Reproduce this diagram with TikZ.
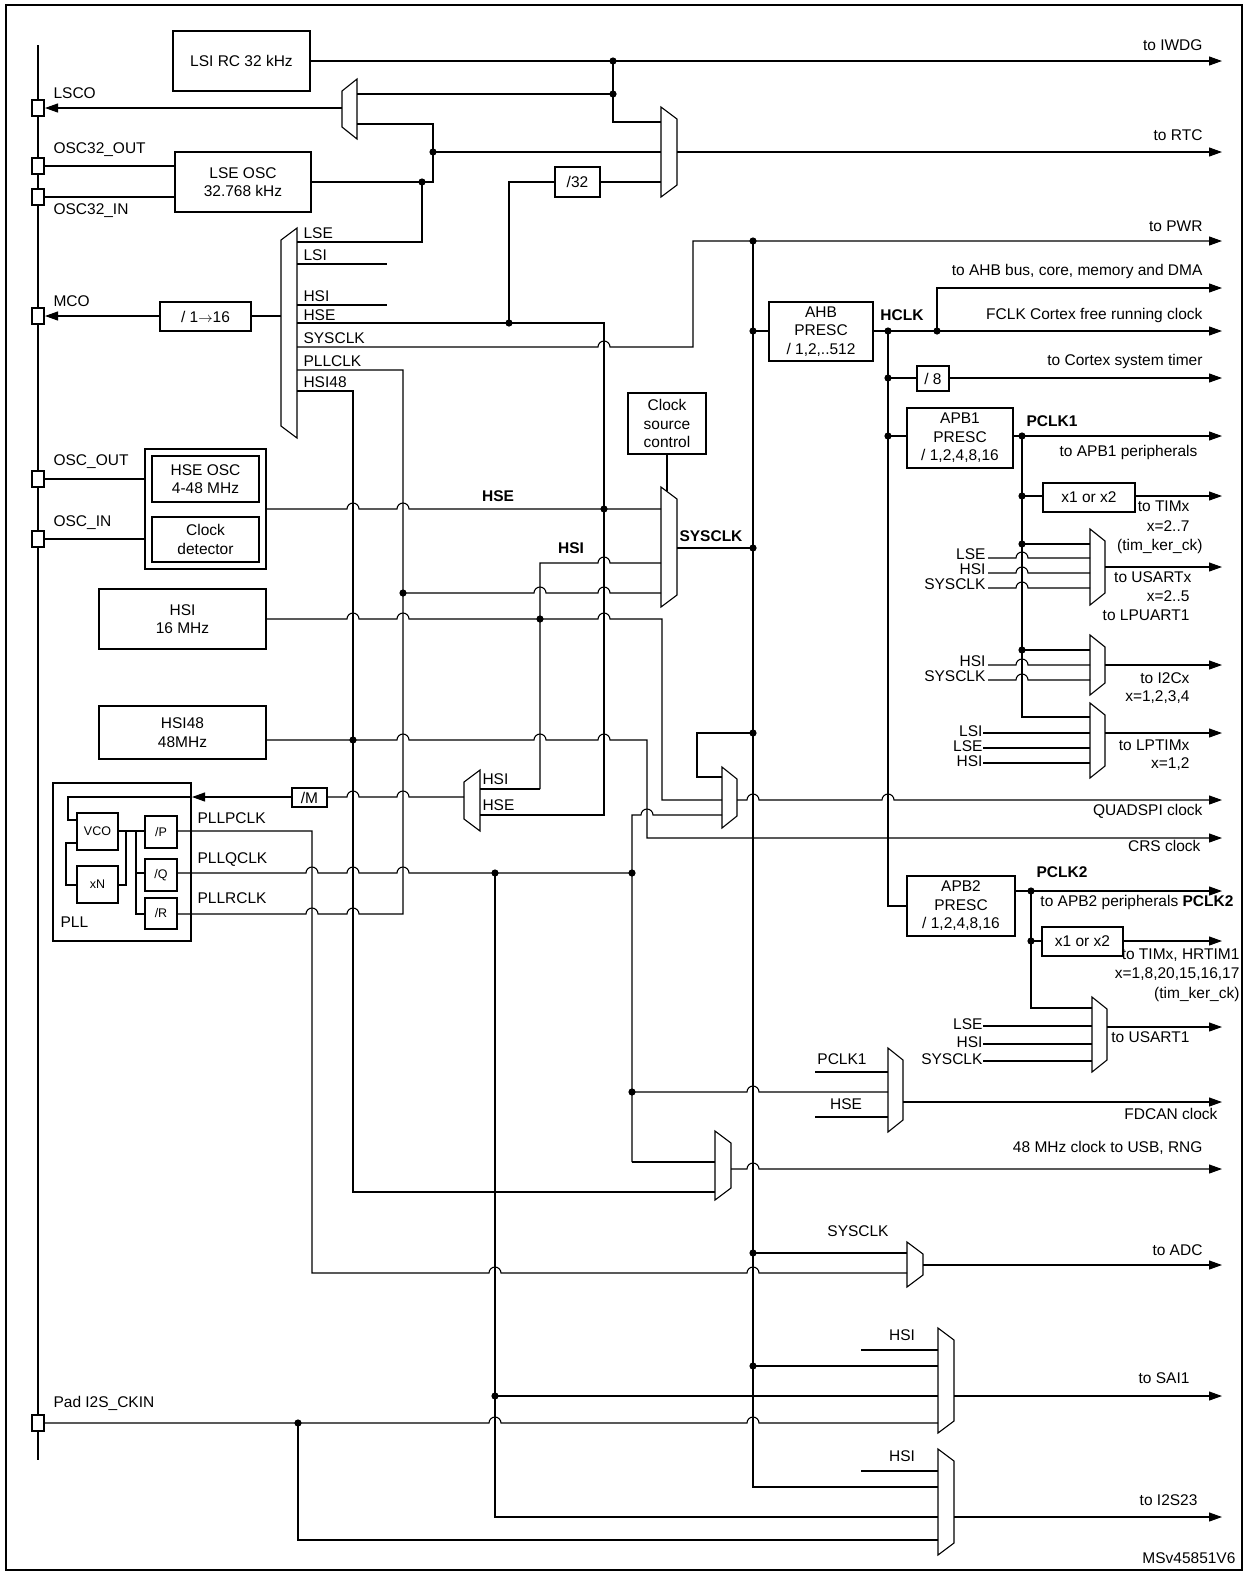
\documentclass[tikz,border=0pt]{standalone}
\usepackage{fontspec}
\setmainfont{Liberation Sans}
\usetikzlibrary{arrows.meta}
\newcommand\hp[2]{-- (#1-6,#2) arc[start angle=180,end angle=0,radius=6pt]}
\newcommand\muxR[4]{\draw (#1,#3) -- (#2,#3+12) -- (#2,#4-12) -- (#1,#4) -- cycle;}
\newcommand\muxL[4]{\draw (#2,#3) -- (#1,#3+12) -- (#1,#4-12) -- (#2,#4) -- cycle;}
\newcommand\dt[2]{\fill (#1,#2) circle[radius=3.6pt];}
\newcommand\bx[6]{\draw (#2,#3) rectangle (#4,#5); \node[align=center] (#1) at ({(#2+#4)/2},{(#3+#5)/2}) {#6};}
\newcommand\pin[1]{\draw[line width=1.8pt,fill=white] (32,#1-8) rectangle (44,#1+8);}
\newcommand\pl{\fontsize{12.5}{14}\selectfont}
\begin{document}
\begin{tikzpicture}[x=1pt,y=-1pt,line width=1.1pt,
  every node/.style={font=\fontsize{15.5}{18.5}\selectfont, inner sep=0pt},
  ar/.style={-{Triangle[length=13pt,width=9pt]}},
  lab/.style={anchor=east},
  labw/.style={anchor=west},
  bl/.style={font=\fontsize{15.5}{18.5}\selectfont\bfseries}]
\useasboundingbox (0,0) rectangle (1248,1575);
\draw[line width=1.5pt] (6,5) rectangle (1242,1570);
% left bus
\draw[line width=2.6pt] (38,45) -- (38,1460);
% top
\bx{lsi}{173}{31}{310}{91}{LSI RC 32 kHz}
\draw[ar] (310,61) -- (1222,61);
\node[lab] at (1203,45) {to IWDG};
\draw (613,61) -- (613,122) -- (661,122);
\dt{613}{61}\dt{613}{94}
\draw (613,94) -- (357,94);
\muxL{342}{357}{79}{139}
\draw[ar] (342,108) -- (45,108);
\draw (357,124) -- (433,124) -- (433,182) -- (311,182);
\dt{433}{152}\dt{422}{182}
\draw (433,152) -- (661,152);
\bx{lse}{175}{152}{311}{212}{LSE OSC\\32.768 kHz}
\draw (44,166) -- (175,166); \draw (44,197) -- (175,197);
\muxR{661}{677}{107}{197}
\draw[ar] (677,152) -- (1222,152);
\node[lab] at (1203,135) {to RTC};
\bx{d32}{555}{167}{600}{197}{/32}
\draw (600,182) -- (661,182);
\draw (555,182) -- (509,182) -- (509,323);
\dt{509}{323}
% MCO mux
\muxL{281}{297}{228}{438}
\draw (422,182) -- (422,242) -- (297,242);
\draw (297,264) -- (387,264);
\draw (297,305) -- (387,305);
\draw (297,323) -- (604,323) -- (604,815) -- (480,815);
\draw[ar] (297,347) \hp{604}{347} -- (693,347) -- (693,241) -- (1222,241);
\draw (177,914) \hp{312}{914} \hp{353}{914} -- (403,914) -- (403,370) -- (297,370);
\draw (297,391) -- (353,391) -- (353,1192) -- (715,1192);
\foreach \t/\y in {LSE/233,LSI/255,HSI/296,HSE/315,SYSCLK/338,PLLCLK/361,HSI48/382}
  \node[labw] at (303,\y) {\t};
\bx{mdiv}{160}{302}{251}{331}{/ 1\(\rightarrow\)16}
\draw (281,316) -- (251,316);
\draw[ar] (160,316) -- (45,316);
\node[lab] at (1203,226) {to PWR};
% pins
\foreach \y/\t in {108/LSCO,316/MCO} {\pin{\y}\node[labw] at (53,\y-15) {\t};}
\pin{166}\node[labw] at (53,150) {OSC32\_OUT};
\pin{197}\node[labw] at (53,211) {OSC32\_IN};
\pin{479}\node[labw] at (53,462) {OSC\_OUT};
\pin{539}\node[labw] at (53,523) {OSC\_IN};
\pin{1423}\node[labw] at (53,1403) {Pad I2S\_CKIN};
% HSE osc
\draw (145,449) rectangle (266,569);
\bx{hse}{152}{456}{259}{502}{HSE OSC\\4-48 MHz}
\bx{cd}{152}{517}{259}{562}{Clock\\detector}
\draw (44,479) -- (145,479); \draw (44,539) -- (145,539);
\draw (266,509) \hp{353}{509} \hp{403}{509} -- (661,509);
\dt{604}{509}
\node[bl] at (498,496) {HSE};
\draw (540,789) -- (540,563) \hp{604}{563} -- (661,563);
\node[bl] at (571,548) {HSI};
\draw (540,789) -- (480,789);
\dt{403}{593}
\draw (403,593) \hp{540}{593} \hp{604}{593} -- (661,593);
\bx{hsi}{99}{589}{266}{649}{HSI\\16 MHz}
\draw (266,619) \hp{353}{619} \hp{403}{619} -- (540,619) \hp{604}{619} -- (662,619) -- (662,800) -- (722,800);
\dt{540}{619}
\bx{hsi48}{99}{706}{266}{759}{HSI48\\48MHz}
\draw[ar] (266,740) -- (353,740) \hp{403}{740} \hp{540}{740} \hp{604}{740} -- (647,740) -- (647,838) -- (1222,838);
\dt{353}{740}
\node[lab] at (1201,846) {CRS clock};
% sysclk mux
\muxR{661}{677}{487}{607}
\draw (677,548) -- (753,548);
\node[bl] at (711,536) {SYSCLK};
\bx{csc}{628}{393}{706}{454}{Clock\\source\\control}
\draw (667,454) -- (667,491);
\draw (753,241) -- (753,1487) -- (938,1487);
\foreach \y in {241,331,548,733,1253,1366} \dt{753}{\y}
% AHB
\draw (753,331) -- (769,331);
\bx{ahb}{769}{302}{873}{361}{AHB\\PRESC\\/ 1,2,..512}
\draw[ar] (873,331) -- (1222,331);
\node[lab] at (1203,315) {FCLK Cortex free running clock};
\dt{888}{331}\dt{937}{331}
\draw[ar] (937,331) -- (937,288) -- (1222,288);
\node[lab] at (1203,271) {to AHB bus, core, memory and DMA};
\node[bl] at (902,315) {HCLK};
\draw (888,331) -- (888,906) -- (907,906);
\dt{888}{378}\dt{888}{436}
\draw (888,378) -- (917,378);
\bx{d8}{917}{366}{949}{391}{/ 8}
\draw[ar] (949,378) -- (1222,378);
\node[lab] at (1203,361) {to Cortex system timer};
\draw (888,436) -- (907,436);
\bx{apb1}{907}{408}{1013}{468}{APB1\\PRESC\\/ 1,2,4,8,16}
\draw[ar] (1013,436) -- (1222,436);
\node[bl] at (1052,421) {PCLK1};
\node[lab] at (1198,452) {to APB1 peripherals};
\dt{1022}{436}
\draw (1022,436) -- (1022,717) -- (1090,717);
\foreach \y in {496,544,650} \dt{1022}{\y}
\draw (1022,496) -- (1043,496);
\bx{x12a}{1043}{483}{1135}{512}{x1 or x2}
\draw[ar] (1135,496) -- (1222,496);
\node[lab] at (1190,506) {to TIMx};
\node[lab] at (1190,526) {x=2..7};
\node[lab] at (1203,546) {(tim\_ker\_ck)};
\draw (1022,544) -- (1090,544);
\muxR{1090}{1105}{529}{605}
\foreach \t/\y in {LSE/558,HSI/573,SYSCLK/588} {\draw (988,\y) \hp{1022}{\y} -- (1090,\y); \node[lab] at (986,\y-4) {\t};}
\draw[ar] (1105,567) -- (1222,567);
\node[lab] at (1192,577) {to USARTx};
\node[lab] at (1190,596) {x=2..5};
\node[lab] at (1190,615) {to LPUART1};
\draw (1022,650) -- (1090,650);
\muxR{1090}{1105}{635}{695}
\foreach \t/\y in {HSI/665,SYSCLK/680} {\draw (988,\y) \hp{1022}{\y} -- (1090,\y); \node[lab] at (986,\y-4) {\t};}
\draw[ar] (1105,665) -- (1222,665);
\node[lab] at (1190,678) {to I2Cx};
\node[lab] at (1190,697) {x=1,2,3,4};
\muxR{1090}{1105}{703}{778}
\foreach \t/\y in {LSI/733,LSE/748,HSI/763} {\draw (983,\y) -- (1090,\y); \node[lab] at (983,\y-2) {\t};}
\draw[ar] (1105,733) -- (1222,733);
\node[lab] at (1190,745) {to LPTIMx};
\node[lab] at (1190,764) {x=1,2};
% QUADSPI
\draw (753,733) -- (697,733) -- (697,777) -- (722,777);
\muxR{722}{737}{767}{828}
\draw (632,1162) -- (632,815) \hp{647}{815} -- (722,815);
\dt{632}{873}\dt{632}{1092}
\draw[ar] (737,800) \hp{753}{800} \hp{888}{800} -- (1222,800);
\node[lab] at (1203,811) {QUADSPI clock};
% APB2
\bx{apb2}{907}{876}{1015}{936}{APB2\\PRESC\\/ 1,2,4,8,16}
\draw[ar] (1015,891) -- (1222,891);
\node[bl] at (1062,872) {PCLK2};
\node[lab] at (1234,902) {to APB2 peripherals \textbf{PCLK2}};
\dt{1031}{891}\dt{1031}{941}
\draw (1031,891) -- (1031,1008) -- (1092,1008);
\draw (1031,941) -- (1042,941);
\bx{x12b}{1042}{927}{1123}{956}{x1 or x2}
\draw[ar] (1123,941) -- (1222,941);
\node[lab] at (1240,955) {to TIMx, HRTIM1};
\node[lab] at (1240,974) {x=1,8,20,15,16,17};
\node[lab] at (1240,994) {(tim\_ker\_ck)};
\muxR{1092}{1107}{997}{1072}
\foreach \t/\y in {LSE/1026,HSI/1044,SYSCLK/1061} {\draw (983,\y) -- (1092,\y); \node[lab] at (983,\y-2) {\t};}
\draw[ar] (1107,1027) -- (1222,1027);
\node[lab] at (1190,1037) {to USART1};
% FDCAN
\muxR{888}{903}{1048}{1132}
\draw (815,1072) -- (888,1072); \node at (842,1059) {PCLK1};
\draw (632,1092) \hp{753}{1092} -- (888,1092);
\draw (815,1117) -- (888,1117); \node at (846,1104) {HSE};
\draw[ar] (903,1102) -- (1222,1102);
\node[lab] at (1218,1114) {FDCAN clock};
% USB
\muxR{715}{731}{1131}{1200}
\draw (632,1162) -- (715,1162);
\draw[ar] (731,1169) \hp{753}{1169} -- (1222,1169);
\node[lab] at (1203,1148) {48 MHz clock to USB, RNG};
% PLL
\draw (53,783) rectangle (191,941);
\node[labw] at (60,922) {PLL};
\bx{vco}{77}{813}{118}{850}{\pl VCO}
\bx{xn}{77}{866}{118}{903}{\pl xN}
\bx{dp}{145}{816}{177}{848}{\pl /P}
\bx{dq}{145}{859}{177}{891}{\pl /Q}
\bx{dr}{145}{898}{177}{929}{\pl /R}
\draw (191,797) -- (68,797) -- (68,820) -- (77,820);
\draw (77,843) -- (66,843) -- (66,885) -- (77,885);
\draw (118,885) -- (126,885) -- (126,831);
\draw[line width=2pt] (118,831) -- (145,831);
\draw (136,831) -- (136,914) -- (145,914);
\draw (136,873) -- (145,873);
\bx{dm}{292}{788}{327}{807}{/M}
\draw[ar] (292,797) -- (192,797);
\draw (327,797) \hp{353}{797} \hp{403}{797} -- (464,797);
\muxL{464}{480}{770}{831}
\node[labw] at (482,779) {HSI};
\node[labw] at (482,805) {HSE};
\node[labw] at (197,818) {PLLPCLK};
\node[labw] at (197,860) {PLLQCLK};
\node[labw] at (197,898) {PLLRCLK};
\draw (177,831) -- (312,831) -- (312,1273) \hp{495}{1273} \hp{753}{1273} -- (907,1273);
\draw (177,873) \hp{312}{873} \hp{353}{873} \hp{403}{873} -- (632,873);
\dt{495}{873}
\draw (495,873) -- (495,1517) -- (938,1517);
% ADC
\muxR{907}{923}{1242}{1287}
\draw (753,1253) -- (907,1253);
\node at (858,1231) {SYSCLK};
\draw[ar] (923,1265) -- (1222,1265);
\node[lab] at (1203,1250) {to ADC};
% SAI1
\muxR{938}{954}{1328}{1433}
\draw (861,1350) -- (938,1350); \node at (902,1335) {HSI};
\draw (753,1366) -- (938,1366);
\dt{495}{1396}
\draw (495,1396) -- (938,1396);
\draw (44,1423) -- (298,1423) \hp{495}{1423} \hp{753}{1423} -- (938,1423);
\dt{298}{1423}
\draw[ar] (954,1396) -- (1222,1396);
\node[lab] at (1190,1378) {to SAI1};
% I2S23
\muxR{938}{954}{1449}{1555}
\draw (861,1471) -- (938,1471); \node at (902,1456) {HSI};
\draw (298,1423) -- (298,1540) -- (938,1540);
\draw[ar] (954,1517) -- (1222,1517);
\node[lab] at (1198,1500) {to I2S23};
\node[lab] at (1236,1558) {MSv45851V6};
\end{tikzpicture}
\end{document}
